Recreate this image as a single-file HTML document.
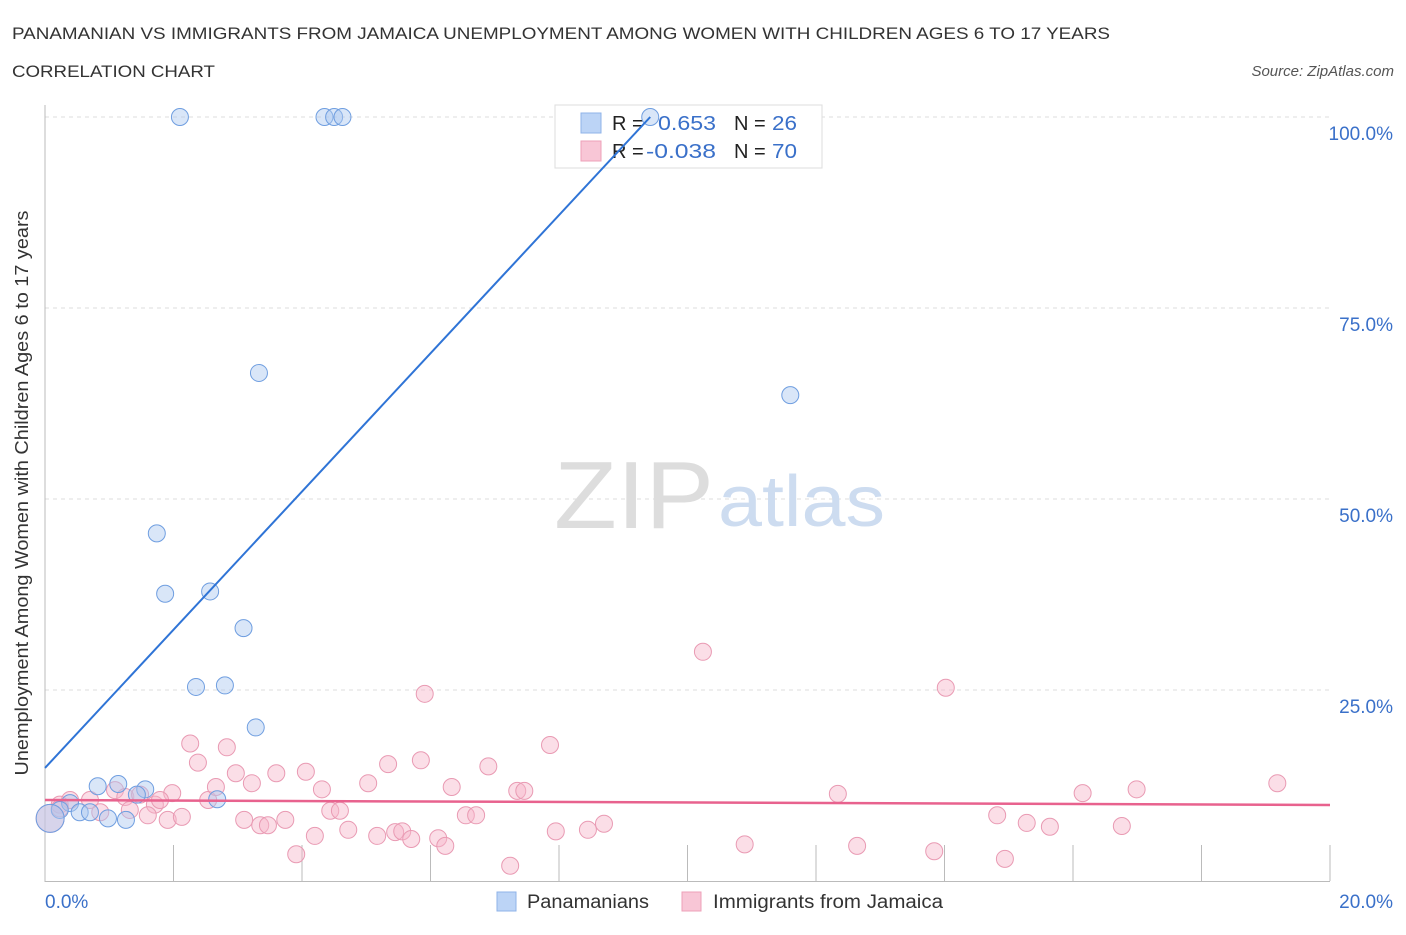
<!DOCTYPE html>
<html><head><meta charset="utf-8"><style>
body{margin:0;background:#fff;font-family:"Liberation Sans",sans-serif;}
svg text{font-family:"Liberation Sans",sans-serif;}
</style></head><body>
<svg id="chart" width="1406" height="930">
<text x="12" y="39" font-size="17" fill="#333" textLength="1098" lengthAdjust="spacingAndGlyphs">PANAMANIAN VS IMMIGRANTS FROM JAMAICA UNEMPLOYMENT AMONG WOMEN WITH CHILDREN AGES 6 TO 17 YEARS</text>
<text x="12" y="77" font-size="17" fill="#333" textLength="203" lengthAdjust="spacingAndGlyphs">CORRELATION CHART</text>
<text x="1394" y="76" font-size="15" fill="#555" font-style="italic" text-anchor="end">Source: ZipAtlas.com</text>
<text x="28" y="493" font-size="18" fill="#333" text-anchor="middle" textLength="565" lengthAdjust="spacingAndGlyphs" transform="rotate(-90 28 493)">Unemployment Among Women with Children Ages 6 to 17 years</text>
<g id="grid"></g>
<text x="714" y="528" font-size="96" fill="#ddd" text-anchor="end" font-family="Liberation Serif" textLength="160" lengthAdjust="spacingAndGlyphs">ZIP</text>
<text x="718" y="526" font-size="72" fill="#cddcf0" textLength="167" lengthAdjust="spacingAndGlyphs">atlas</text>
<g>
<rect x="555" y="105" width="267" height="63" fill="#fff" stroke="#ddd"/>
<rect x="581" y="113" width="20" height="20" fill="#bcd4f6" stroke="#8fb3e8"/>
<rect x="581" y="141" width="20" height="20" fill="#f8c6d6" stroke="#eea0b8"/>
<text x="612" y="130" font-size="20" fill="#222">R = </text><text x="658" y="130" font-size="20" fill="#3a70c9" textLength="58" lengthAdjust="spacingAndGlyphs">0.653</text>
<text x="734" y="130" font-size="20" fill="#222">N = </text><text x="772" y="130" font-size="20" fill="#3a70c9" textLength="25" lengthAdjust="spacingAndGlyphs">26</text>
<text x="612" y="158" font-size="20" fill="#222">R = </text><text x="646" y="158" font-size="20" fill="#3a70c9" textLength="70" lengthAdjust="spacingAndGlyphs">-0.038</text>
<text x="734" y="158" font-size="20" fill="#222">N = </text><text x="772" y="158" font-size="20" fill="#3a70c9" textLength="25" lengthAdjust="spacingAndGlyphs">70</text>
</g>
<g id="pts"></g>
<g id="lines"></g>
<g>
<rect x="497" y="892" width="19" height="19" fill="#bcd4f6" stroke="#8fb3e8"/>
<text x="527" y="908" font-size="19" fill="#333" textLength="122" lengthAdjust="spacingAndGlyphs">Panamanians</text>
<rect x="682" y="892" width="19" height="19" fill="#f8c6d6" stroke="#eea0b8"/>
<text x="713" y="908" font-size="19" fill="#333" textLength="230" lengthAdjust="spacingAndGlyphs">Immigrants from Jamaica</text>
</g>
</svg>
<script>
const xTicks=[0,20];
const yTicks=[25,50,75,100];
const blueX=[2.1,4.35,4.5,4.63,9.42,3.33,11.6,1.74,1.87,2.57,3.09,2.35,2.8,3.28,0.82,1.14,1.56,1.43,0.39,0.23,0.54,0.7,0.98,1.26,2.68,0.08];
const blueY=[100,100,100,100,100,66.5,63.6,45.5,37.6,37.9,33.1,25.4,25.6,20.1,12.4,12.7,12.0,11.3,10.2,9.3,9.0,9.0,8.2,8.0,10.7,8.2];
const pinkX=[0.08,0.23,0.39,0.7,1.09,1.25,1.48,1.71,1.6,1.91,1.98,2.13,2.26,2.38,2.54,2.66,2.83,2.97,3.1,3.22,3.35,3.47,3.6,3.74,3.91,4.06,4.2,4.31,4.44,4.59,4.72,5.03,5.17,5.34,5.45,5.56,5.7,5.85,5.91,6.12,6.23,6.33,6.55,6.71,6.9,7.24,7.35,7.46,7.86,7.95,8.45,8.7,10.24,10.89,12.34,12.64,13.84,14.02,14.82,14.94,15.28,15.64,16.15,16.76,16.99,19.18,0.86,1.32,1.79,0.23];
const pinkY=[8.2,10.0,10.6,10.6,11.9,11.0,11.3,10.0,8.6,8.0,11.5,8.4,18.0,15.5,10.6,12.3,17.5,14.1,8.0,12.8,7.3,7.3,14.1,8.0,3.5,14.3,5.9,12.0,9.2,9.2,6.7,12.8,5.9,15.3,6.4,6.5,5.5,15.8,24.5,5.6,4.6,12.3,8.6,8.6,15.0,2.0,11.8,11.8,17.8,6.5,6.7,7.5,30.0,4.8,11.4,4.6,3.9,25.3,8.6,2.9,7.6,7.1,11.5,7.2,12.0,12.8,9.0,9.3,10.6,9.5];
const blueLine=[14.8,100], blueLineX=[0,9.42];
const pinkLine=[10.6,9.95];
const X=v=>45+v*64.25, Y=v=>881-v*7.64;
const NS='http://www.w3.org/2000/svg';
function mk(t,a,p){const e=document.createElementNS(NS,t);for(const k in a)e.setAttribute(k,a[k]);p.appendChild(e);return e;}
const grid=document.getElementById('grid');
yTicks.forEach(v=>{
 const l=mk('line',{x1:45,x2:1330,y1:Y(v),y2:Y(v),stroke:'#ddd','stroke-dasharray':'4,4'},grid);
 
 
 const t=mk('text',{x:1393,y:Y(v)+23,'font-size':19,fill:'#3a70c9','text-anchor':'end'},grid);
 t.textContent=v.toFixed(1)+'%';
 
 
});
mk('line',{x1:45,x2:45,y1:105,y2:882,stroke:'#bbb'},grid);
mk('line',{x1:45,x2:1330,y1:881.5,y2:881.5,stroke:'#bbb'},grid);
for(let i=1;i<=10;i++){mk('line',{x1:X(i*2),x2:X(i*2),y1:845,y2:881,stroke:'#bbb'},grid);}
xTicks.forEach((v,i)=>{
 const t=mk('text',{x:i?1393:45,y:908,'font-size':19,fill:'#3a70c9','text-anchor':i?'end':'start'},grid);
 t.textContent=v.toFixed(1)+'%';
 
 
});
const pts=document.getElementById('pts');
pinkX.forEach((x,i)=>{
 const c=mk('circle',{cx:X(x),cy:Y(pinkY[i]),r:i==0?14:8.5,fill:'rgba(246,182,202,0.45)',stroke:'#e99ab3','stroke-width':1},pts);
 
 
});
blueX.forEach((x,i)=>{
 const c=mk('circle',{cx:X(x),cy:Y(blueY[i]),r:i==25?14:8.5,fill:'rgba(170,200,240,0.45)',stroke:'#6f9ee0','stroke-width':1},pts);
 
 
});
const lines=document.getElementById('lines');
const bl=mk('line',{x1:X(blueLineX[0]),y1:Y(blueLine[0]),x2:X(blueLineX[1]),y2:Y(blueLine[1]),stroke:'#2f74d6','stroke-width':2},lines);


const pl=mk('line',{x1:X(0),y1:Y(pinkLine[0]),x2:X(20),y2:Y(pinkLine[1]),stroke:'#e8628e','stroke-width':2.5},lines);


</script>
</body></html>
